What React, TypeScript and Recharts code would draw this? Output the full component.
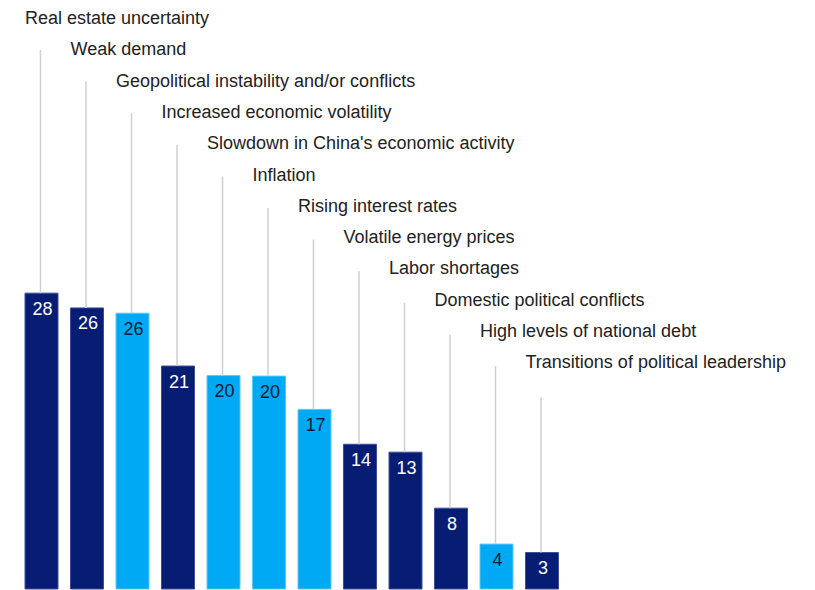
import React from 'react';
import { BarChart, Bar, XAxis, YAxis, Cell, LabelList } from 'recharts';

const categories = [
  'Real estate uncertainty',
  'Weak demand',
  'Geopolitical instability and/or conflicts',
  'Increased economic volatility',
  "Slowdown in China's economic activity",
  'Inflation',
  'Rising interest rates',
  'Volatile energy prices',
  'Labor shortages',
  'Domestic political conflicts',
  'High levels of national debt',
  'Transitions of political leadership',
];

// shown labels (rounded)
const shares = [28, 26, 26, 21, 20, 20, 17, 14, 13, 8, 4, 3];
// bar heights as drawn (unrounded estimates)
const heights = [28.0, 26.6, 26.1, 21.1, 20.2, 20.15, 17.0, 13.7, 12.95, 7.65, 4.25, 3.45];
// 1 = light blue bar
const highlight = [0, 0, 1, 0, 1, 1, 1, 0, 0, 0, 1, 0];

const NAVY = '#071D74';
const CYAN = '#00A9F4';
const FONT = '"Liberation Sans", Arial, sans-serif';

const data = categories.map((name, i) => ({
  name,
  value: heights[i],
  label: shares[i],
  light: highlight[i],
}));

const CalloutLabel = (props: any) => {
  const { x, y, width, index } = props;
  const cx = x + width / 2 - 1;
  const textY = 24 + index * 31.3;
  const lineTop = 50 + index * 31.6;
  return (
    <g>
      <line x1={cx} x2={cx} y1={lineTop} y2={y} stroke="#cfcfcf" strokeWidth={1.5} />
      <text x={x} y={textY} fontSize={18} fontFamily={FONT} fill="#222222">
        {categories[index]}
      </text>
    </g>
  );
};

const ValueLabel = (props: any) => {
  const { x, y, width, index } = props;
  return (
    <text
      x={x + width / 2 + 1}
      y={y + 21.5}
      textAnchor="middle"
      fontSize={18}
      fontFamily={FONT}
      fill={highlight[index] ? '#0b1a33' : '#ffffff'}
    >
      {shares[index]}
    </text>
  );
};

export default function App() {
  return (
    <div style={{ position: 'fixed', left: 0, top: 0, background: '#fff' }}>
      <BarChart
        width={815}
        height={590}
        data={data}
        margin={{ top: 272, right: 250, left: 19, bottom: 1 }}
        barSize={33}
      >
        <XAxis dataKey="name" hide />
        <YAxis domain={[0, 30]} hide />
        <Bar dataKey="value" isAnimationActive={false}>
          {data.map((d, i) => (
            <Cell
              key={i}
              fill={d.light ? CYAN : NAVY}
              stroke={d.light ? '#5cc8f8' : '#3b4f96'}
              strokeWidth={1}
            />
          ))}
          <LabelList dataKey="label" content={<CalloutLabel />} />
          <LabelList dataKey="label" content={<ValueLabel />} />
        </Bar>
      </BarChart>
    </div>
  );
}
